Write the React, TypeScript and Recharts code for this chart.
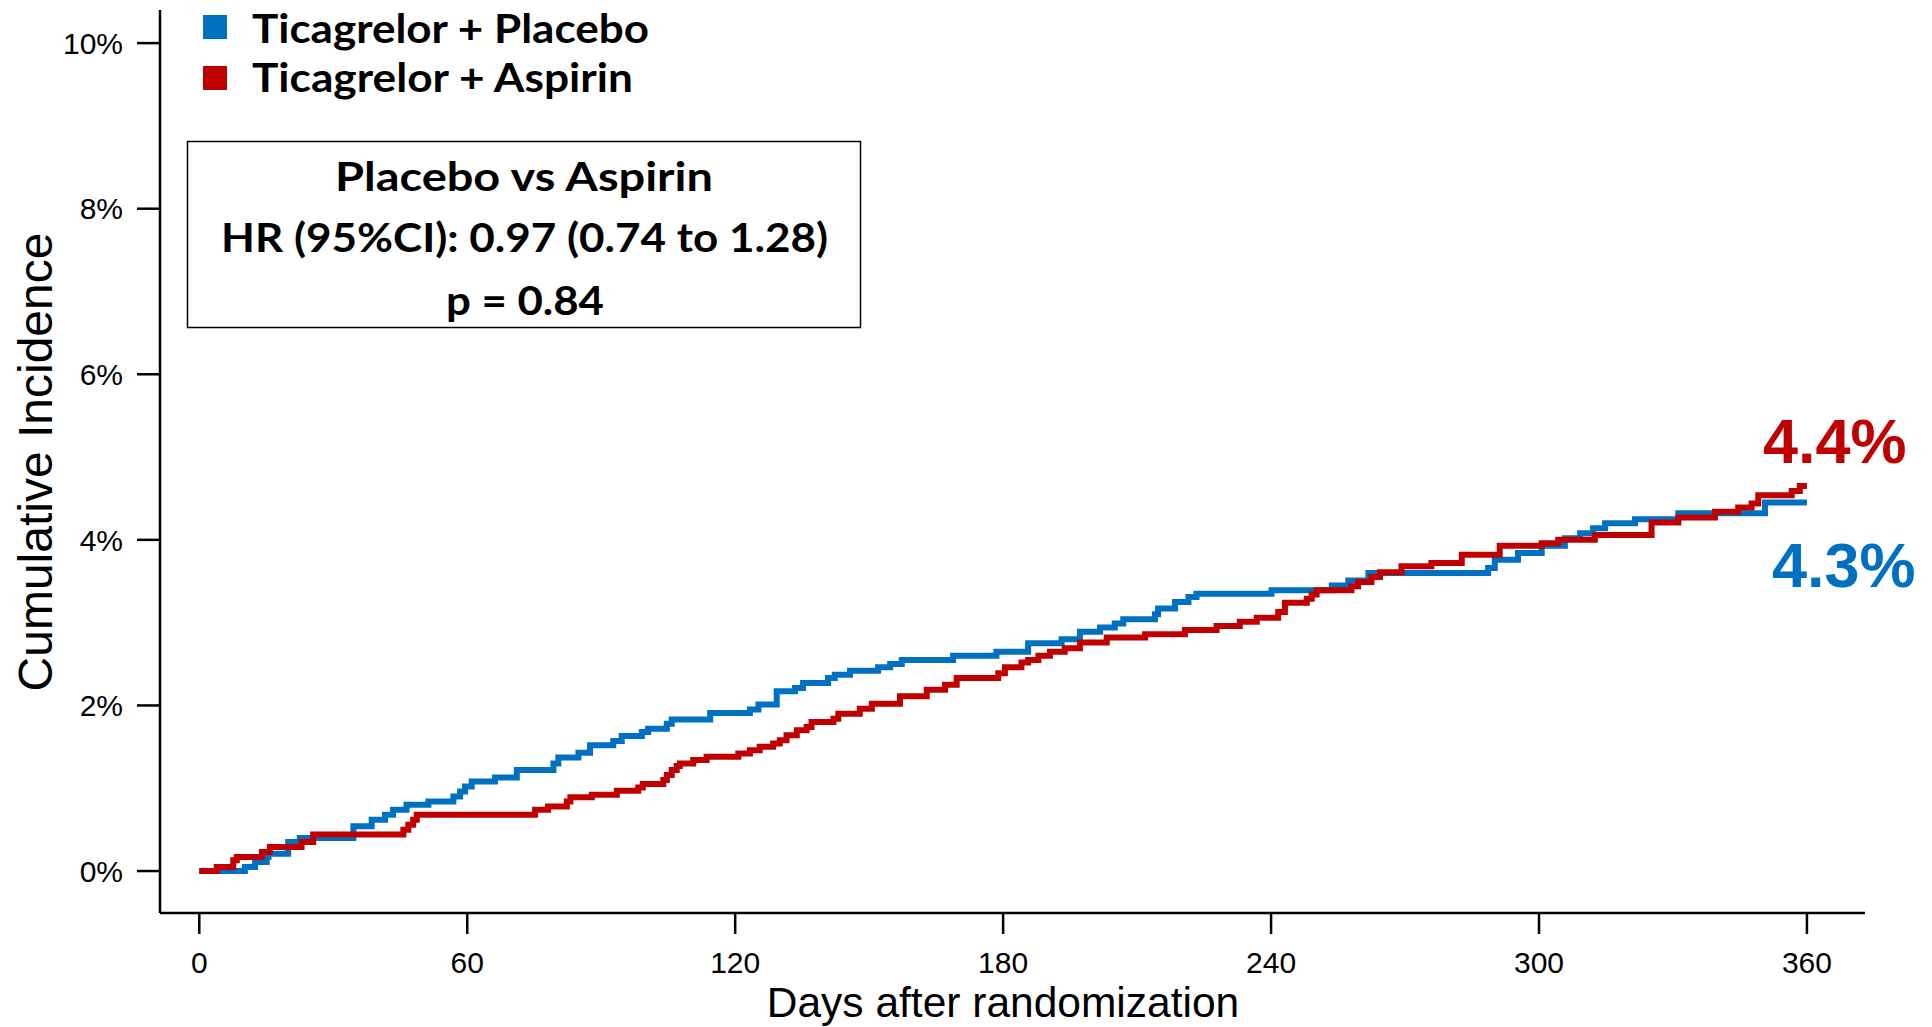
import { Line, LineChart, XAxis, YAxis } from "recharts";

// days after randomization / cumulative incidence (%)
const placeboDays = [0, 10.2, 12.5, 15.1, 15.5, 19.9, 22.5, 34.5, 38.6, 41.6, 43.4, 46.4, 51.3, 56.9, 58.4, 59.5, 61, 66.2, 71.1, 79.3, 80.4, 84.9, 87.5, 92.7, 94.6, 99.1, 100.5, 104.7, 105.8, 114.4, 123.3, 125.2, 129.3, 133.4, 135.2, 140.8, 142.3, 145.7, 152, 154.7, 157.3, 168.8, 178.5, 185.6, 193.1, 197.2, 201.7, 205, 206.9, 214, 214.7, 218.5, 221.5, 223.3, 240.1, 253.6, 257.3, 261.8, 288.6, 290.1, 295.3, 300.6, 305.8, 309.2, 312.1, 314.8, 321.5, 331.2, 350.6, 360];
const placeboRisk = [0, 0.05, 0.11, 0.17, 0.21, 0.35, 0.4, 0.54, 0.62, 0.68, 0.74, 0.8, 0.84, 0.9, 0.96, 1.02, 1.08, 1.13, 1.22, 1.3, 1.37, 1.43, 1.52, 1.57, 1.63, 1.68, 1.72, 1.78, 1.83, 1.91, 1.95, 2.01, 2.17, 2.21, 2.27, 2.33, 2.37, 2.42, 2.46, 2.5, 2.55, 2.6, 2.65, 2.75, 2.8, 2.89, 2.94, 2.99, 3.04, 3.1, 3.17, 3.25, 3.31, 3.35, 3.39, 3.45, 3.51, 3.6, 3.66, 3.76, 3.84, 3.93, 4.02, 4.08, 4.14, 4.2, 4.25, 4.32, 4.45, 4.45];

const aspirinDays = [0, 3.9, 7.6, 8.4, 14, 15.8, 22.9, 25.5, 45.7, 46.8, 47.9, 48.7, 75.2, 78.1, 82.3, 83.1, 87.9, 93.5, 98.3, 99.3, 103.9, 104.7, 105.8, 106.9, 107.6, 110.6, 113.6, 120.7, 123.3, 125.5, 128.5, 130, 131.5, 133.8, 136, 137.1, 142, 143.1, 147.9, 150.6, 156.9, 162.9, 167, 169.6, 178.9, 180.4, 184.1, 185.6, 187.9, 190.5, 193.8, 197.2, 203.2, 211.8, 220.7, 227.8, 233, 236.8, 241.6, 243.1, 248, 249.1, 250.2, 258, 259.5, 262.5, 264.4, 269.2, 275.9, 282.7, 291.2, 300.6, 304.3, 312.5, 325.2, 331.2, 339.4, 344.6, 347.6, 349.1, 356.6, 358.4, 360];
const aspirinRisk = [0, 0.05, 0.13, 0.17, 0.23, 0.29, 0.35, 0.44, 0.5, 0.56, 0.62, 0.68, 0.74, 0.78, 0.84, 0.89, 0.92, 0.97, 1.01, 1.05, 1.1, 1.16, 1.22, 1.27, 1.3, 1.34, 1.38, 1.42, 1.46, 1.5, 1.54, 1.58, 1.64, 1.7, 1.74, 1.8, 1.84, 1.9, 1.96, 2.02, 2.11, 2.19, 2.25, 2.33, 2.39, 2.46, 2.52, 2.55, 2.6, 2.65, 2.69, 2.76, 2.82, 2.86, 2.91, 2.96, 3.01, 3.06, 3.13, 3.24, 3.29, 3.34, 3.39, 3.44, 3.49, 3.55, 3.61, 3.68, 3.72, 3.82, 3.93, 3.96, 4.0, 4.06, 4.21, 4.27, 4.34, 4.39, 4.44, 4.54, 4.59, 4.65, 4.65];

const dayTicks = [0, 60, 120, 180, 240, 300, 360];
const pctTicks = [0, 2, 4, 6, 8, 10];

const BLUE = "#0070C0";
const RED = "#C00000";

const placebo = placeboDays.map((day, i) => ({ day, risk: placeboRisk[i] }));
const aspirin = aspirinDays.map((day, i) => ({ day, risk: aspirinRisk[i] }));

const axisStroke = { stroke: "#000", strokeWidth: 2.5 };
const ARIAL = "Liberation Sans, Arial, sans-serif";
const tickFont = { fill: "#000", fontSize: 30, fontFamily: ARIAL };
const boldLabel = { fontFamily: "Lato, sans-serif", fontWeight: 700, fill: "#000", lengthAdjust: "spacingAndGlyphs" };

export default function App() {
  return (
    <div style={{ position: "absolute", left: 0, top: 0, width: 1932, height: 1027, background: "#fff" }}>
      <LineChart width={1932} height={1027} margin={{ top: 10, right: 67, bottom: 0, left: 100 }}>
        <XAxis
          type="number"
          dataKey="day"
          domain={[-8.8, 373]}
          allowDataOverflow
          ticks={dayTicks}
          height={114}
          tickSize={21}
          tickMargin={18}
          axisLine={axisStroke}
          tickLine={axisStroke}
          tick={tickFont}
        />
        <YAxis
          type="number"
          domain={[-0.507, 10.4]}
          allowDataOverflow
          ticks={pctTicks}
          width={60}
          tickSize={23}
          tickMargin={14}
          tickFormatter={(v: number) => `${v}%`}
          axisLine={axisStroke}
          tickLine={axisStroke}
          tick={tickFont}
        />
        <Line data={placebo} dataKey="risk" type="stepAfter" stroke={BLUE} strokeWidth={6} dot={false} isAnimationActive={false} />
        <Line data={aspirin} dataKey="risk" type="stepAfter" stroke={RED} strokeWidth={6} dot={false} isAnimationActive={false} />
      </LineChart>

      <svg width={1932} height={1027} style={{ position: "absolute", left: 0, top: 0, pointerEvents: "none" }}>
        {/* legend */}
        <rect x={203} y={15} width={24} height={24} fill={BLUE} />
        <rect x={203} y={66} width={24} height={24} fill={RED} />
        <text x={252} y={43} fontSize={40} textLength={397} {...boldLabel}>Ticagrelor + Placebo</text>
        <text x={252} y={92} fontSize={40} textLength={381} {...boldLabel}>Ticagrelor + Aspirin</text>

        {/* HR box */}
        <rect x={187.5} y={141.5} width={673} height={186} fill="#fff" stroke="#000" strokeWidth={1.5} />
        <text x={335} y={191} fontSize={41} textLength={378} {...boldLabel}>Placebo vs Aspirin</text>
        <text x={221} y={252} fontSize={41} textLength={607} {...boldLabel}>HR (95%CI): 0.97 (0.74 to 1.28)</text>
        <text x={446} y={315} fontSize={41} textLength={158} {...boldLabel}>p = 0.84</text>

        {/* end-of-curve values */}
        <text x={1763} y={463} fontSize={63} fontWeight={700} fontFamily={ARIAL} fill={RED}>4.4%</text>
        <text x={1772} y={587} fontSize={63} fontWeight={700} fontFamily={ARIAL} fill={BLUE}>4.3%</text>

        {/* axis titles */}
        <text transform="translate(52,462) rotate(-90)" textAnchor="middle" fontSize={48} fontFamily={ARIAL} fill="#000">
          Cumulative Incidence
        </text>
        <text x={1003} y={1017} textAnchor="middle" fontSize={42.5} fontFamily={ARIAL} fill="#000">
          Days after randomization
        </text>
      </svg>
    </div>
  );
}
